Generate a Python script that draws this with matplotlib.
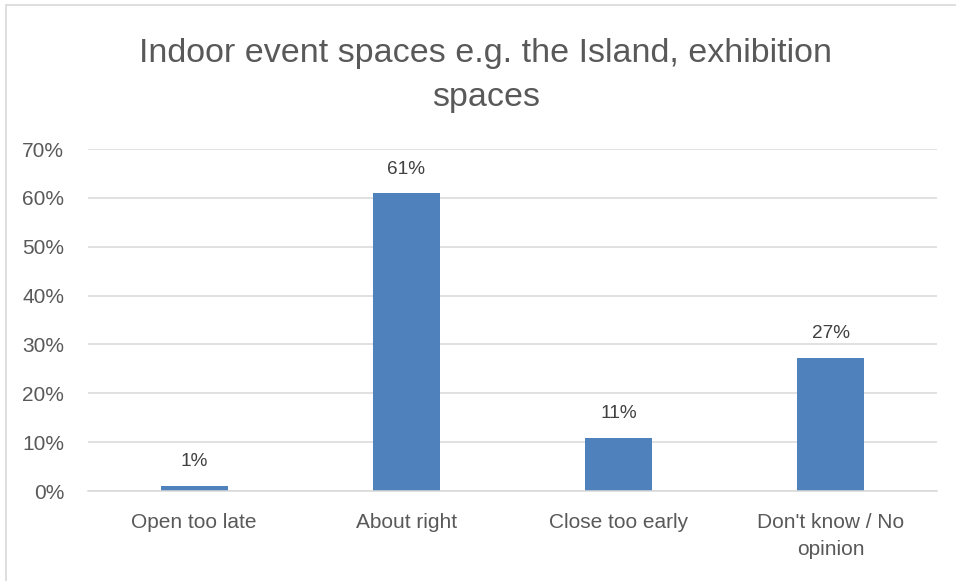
import matplotlib.pyplot as plt
from matplotlib.patches import Rectangle

categories = ["Open too late", "About right", "Close too early", "Don't know / No\nopinion"]
values = [1.0, 60.9, 10.9, 27.2]
value_labels = ["1%", "61%", "11%", "27%"]
y_ticks = [0, 10, 20, 30, 40, 50, 60, 70]
title = "Indoor event spaces e.g. the Island, exhibition\nspaces"

BAR_COLOR = "#4F81BD"
TEXT_COLOR = "#595959"
GRID_COLOR = "#D9D9D9"

plt.rcParams["font.family"] = ["Liberation Sans", "DejaVu Sans"]

fig = plt.figure(figsize=(9.56, 5.81), dpi=100)
fig.patches.append(
    Rectangle((6 / 956, -0.1), 1.2, 1 - 5 / 581 + 0.1, transform=fig.transFigure,
              fill=False, edgecolor="#D9D9D9", linewidth=1.2)
)

ax = fig.add_axes([0.092, 0.1549, 0.888, 0.5886])
x = range(len(categories))
ax.bar(x, values, width=0.316, color=BAR_COLOR, zorder=2)

for xi, v, lab in zip(x, values, value_labels):
    ax.text(xi, v + 3.2, lab, ha="center", va="bottom", fontsize=13.7, color="#404040")

ax.set_xlim(-0.5, len(categories) - 0.5)
ax.set_ylim(0, 70)
ax.set_yticks(y_ticks)
ax.set_yticklabels([f"{t}%" for t in y_ticks])
ax.set_xticks(list(x))
ax.set_xticklabels(categories, linespacing=1.55, fontsize=15.4)
ax.yaxis.grid(True, color=GRID_COLOR, linewidth=1.1, zorder=0)
ax.set_axisbelow(True)

for side in ["top", "right", "left"]:
    ax.spines[side].set_visible(False)
ax.spines["bottom"].set_color(GRID_COLOR)
ax.spines["bottom"].set_linewidth(1.1)

ax.tick_params(axis="both", length=0, colors=TEXT_COLOR, labelsize=15)
ax.tick_params(axis="x", pad=16)
ax.tick_params(axis="y", pad=17)

fig.text(0.508, 0.870, title, ha="center", va="center", fontsize=24.5,
         color=TEXT_COLOR, linespacing=1.58)

fig.savefig("out.png", dpi=100)
